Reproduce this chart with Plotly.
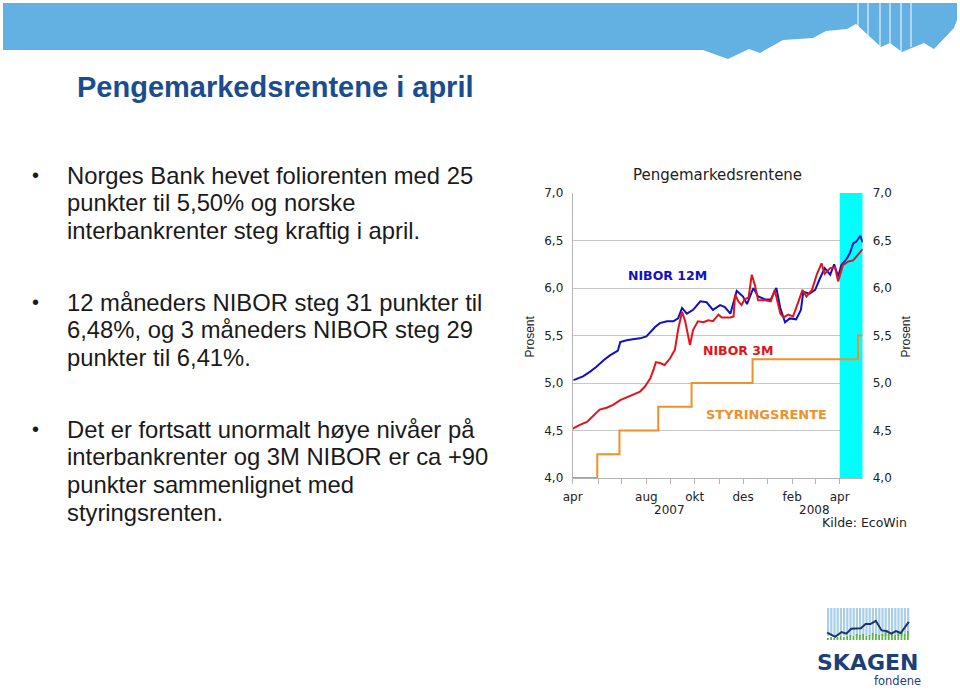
import plotly.graph_objects as go

# ---------------- data ----------------
nibor12_dates = ["2007-05-01","2007-05-06","2007-05-13","2007-05-22","2007-05-30","2007-06-08","2007-06-16",
                 "2007-06-24","2007-06-26","2007-06-29","2007-07-07","2007-07-15","2007-07-24","2007-08-01",
                 "2007-08-06","2007-08-12","2007-08-18","2007-08-27","2007-09-04","2007-09-10","2007-09-15",
                 "2007-09-21","2007-09-29","2007-10-08","2007-10-16","2007-10-24","2007-11-02","2007-11-08",
                 "2007-11-15","2007-11-23","2007-11-27","2007-12-01","2007-12-06","2007-12-14","2007-12-20",
                 "2007-12-29","2008-01-05","2008-01-12","2008-01-17","2008-01-23","2008-01-29","2008-02-06",
                 "2008-02-12","2008-02-15","2008-02-23","2008-03-01","2008-03-07","2008-03-13","2008-03-20",
                 "2008-03-25","2008-03-30","2008-04-03","2008-04-10","2008-04-14","2008-04-18","2008-04-22",
                 "2008-04-27","2008-04-30"]
nibor12 = [5.03,5.05,5.07,5.12,5.17,5.24,5.29,5.33,5.34,5.43,5.45,5.46,5.47,5.49,5.54,5.59,5.63,5.65,5.65,5.68,
           5.79,5.73,5.77,5.86,5.85,5.77,5.82,5.80,5.73,5.97,5.94,5.91,5.83,6.00,5.91,5.88,5.88,6.00,5.79,5.64,
           5.68,5.67,5.77,5.96,5.94,5.98,6.10,6.21,6.14,6.25,6.12,6.24,6.31,6.37,6.47,6.49,6.55,6.48]

nibor3_dates = ["2007-04-30","2007-05-09","2007-05-18","2007-05-26","2007-06-03","2007-06-12","2007-06-20",
                "2007-06-29","2007-07-07","2007-07-15","2007-07-24","2007-07-30","2007-08-06","2007-08-10",
                "2007-08-13","2007-08-18","2007-08-24","2007-08-31","2007-09-06","2007-09-10","2007-09-15",
                "2007-09-19","2007-09-25","2007-09-29","2007-10-05","2007-10-12","2007-10-18","2007-10-24",
                "2007-10-31","2007-11-04","2007-11-15","2007-11-19","2007-11-21","2007-11-25","2007-11-29",
                "2007-12-03","2007-12-08","2007-12-12","2007-12-16","2007-12-20","2007-12-29","2008-01-05",
                "2008-01-10","2008-01-17","2008-01-21","2008-01-27","2008-02-02","2008-02-09","2008-02-14",
                "2008-02-19","2008-02-26","2008-03-03","2008-03-09","2008-03-13","2008-03-20","2008-03-26",
                "2008-03-30","2008-04-05","2008-04-12","2008-04-18","2008-04-22","2008-04-27","2008-04-29",
                "2008-04-30"]
nibor3 = [4.52,4.56,4.59,4.65,4.72,4.74,4.77,4.82,4.85,4.88,4.91,4.96,5.05,5.14,5.22,5.21,5.19,5.26,5.35,5.56,
          5.75,5.65,5.40,5.56,5.65,5.64,5.66,5.65,5.72,5.69,5.69,5.70,5.93,5.86,5.82,5.88,5.90,6.14,6.03,5.87,
          5.87,5.86,5.98,5.73,5.69,5.72,5.70,5.86,5.98,5.91,5.98,6.14,6.26,6.15,6.21,6.22,6.07,6.24,6.28,6.29,
          6.33,6.37,6.40,6.41]

policy_dates = ["2007-04-30","2007-05-31","2007-06-28","2007-08-16","2007-09-27","2007-12-13","2008-04-24","2008-04-30"]
policy_rate = [4.00,4.25,4.50,4.75,5.00,5.25,5.50,5.50]

x_range = ["2007-04-30", "2008-04-30"]
highlight_start, highlight_end = "2008-04-01", "2008-04-30"

ytick_vals = [4.0, 4.5, 5.0, 5.5, 6.0, 6.5, 7.0]
ytick_text = ["4,0", "4,5", "5,0", "5,5", "6,0", "6,5", "7,0"]
xtick_vals = ["2007-04-30","2007-06-01","2007-07-01","2007-08-01","2007-09-01","2007-10-01","2007-11-01",
              "2007-12-01","2008-01-01","2008-02-01","2008-03-01","2008-04-01"]
xtick_text = ["apr","","","aug","","okt","","des","","feb","","apr"]

# ---------------- helpers ----------------
W, H = 960, 690
def px(x): return x / W
def py(y): return 1 - y / H

BLUE = "#1010c4"
RED = "#e0141c"
ORANGE = "#f0902a"
CHART_FONT = "DejaVu Sans"
SLIDE_FONT = "Liberation Sans, Arial"

fig = go.Figure()
fig.add_trace(go.Scatter(x=policy_dates, y=policy_rate, mode="lines", line=dict(color=ORANGE, width=2, shape="hv"),
                         yaxis="y2", name="Styringsrente", showlegend=False))
fig.add_trace(go.Scatter(x=nibor12_dates, y=nibor12, mode="lines", line=dict(color=BLUE, width=2),
                         name="NIBOR 12M", showlegend=False))
fig.add_trace(go.Scatter(x=nibor3_dates, y=nibor3, mode="lines", line=dict(color=RED, width=2),
                         name="NIBOR 3M", showlegend=False))

tickfont = dict(family=CHART_FONT, size=12, color="#222222")
fig.update_layout(
    width=W, height=H, margin=dict(l=0, r=0, t=0, b=0, pad=0, autoexpand=False),
    paper_bgcolor="white", plot_bgcolor="white",
    xaxis=dict(domain=[px(572.7), px(862.7)], type="date", range=x_range, showgrid=False,
               showline=True, linecolor="#b4b4b4", linewidth=1, ticks="outside", ticklen=5,
               tickcolor="#b4b4b4", tickvals=xtick_vals, ticktext=xtick_text, tickfont=tickfont,
               ticklabelstandoff=3, fixedrange=True, automargin=False),
    yaxis=dict(domain=[py(478), py(193)], range=[4, 7], showgrid=True, gridcolor="#c8c8c8", gridwidth=1,
               showline=True, linecolor="#b4b4b4", ticks="", tickvals=ytick_vals, ticktext=ytick_text,
               tickfont=tickfont, zeroline=False, ticklabelstandoff=6, automargin=False),
    yaxis2=dict(overlaying="y", side="right", range=[4, 7], showgrid=False, showline=False, ticks="",
                tickvals=ytick_vals, ticktext=ytick_text, tickfont=tickfont, zeroline=False,
                ticklabelstandoff=9, automargin=False),
)

shapes = []
# highlight band for April 2008
shapes.append(dict(type="rect", xref="x", yref="y", x0=highlight_start, x1=highlight_end, y0=4, y1=7,
                   fillcolor="#00ffff", line=dict(width=0), layer="between"))

# top banner
band = [(3,3),(957,3),(957,20),(954,28),(934,49),(924,43),(902,52),(890,43),(881,47),(856,24),(847,29),
        (826,31),(813,38),(783,40),(760,53),(749,49),(728,59),(703,50),(3,50)]
path = "M " + " L ".join(f"{px(a):.5f},{py(b):.5f}" for a, b in band) + " Z"
shapes.append(dict(type="path", xref="paper", yref="paper", path=path, fillcolor="#63b0e3",
                   line=dict(width=0), layer="below"))
for xx, yb in [(858,26),(868,36),(880,46),(890,43),(901,51),(911,47)]:
    shapes.append(dict(type="line", xref="paper", yref="paper", x0=px(xx), x1=px(xx), y0=py(3), y1=py(yb),
                       line=dict(color="white", width=1), layer="below"))

# logo graphic
for i in range(26):
    x0 = 827 + i * 3.2
    shapes.append(dict(type="rect", xref="paper", yref="paper", x0=px(x0), x1=px(x0 + 2.2), y0=py(636), y1=py(608),
                       fillcolor="#a9cfea", line=dict(width=0), layer="below"))
green_h = [2,3,2,3,4,3,4,5,4,6,5,6,4,5,7,6,5,6,8,6,7,5,7,8,6,9]
for i, h in enumerate(green_h):
    x0 = 827 + i * 3.2
    shapes.append(dict(type="rect", xref="paper", yref="paper", x0=px(x0), x1=px(x0 + 1.8), y0=py(640), y1=py(640 - h),
                       fillcolor="#5fb54a", line=dict(width=0), layer="below"))
logo_line = [(827.2,632.6),(835.2,636.8),(841.6,632),(846.4,633.6),(851.2,628.8),(860.8,628.2),(865.6,624),
             (870.4,624),(875.8,620.8),(881.6,630.4),(886.4,631),(891.2,633.6),(896,631),(900.8,633),(908.8,621.8)]
lpath = "M " + " L ".join(f"{px(a):.5f},{py(b):.5f}" for a, b in logo_line)
shapes.append(dict(type="path", xref="paper", yref="paper", path=lpath, line=dict(color="#1c3566", width=2),
                   layer="below"))
fig.update_layout(shapes=shapes)

ann = []
def text(x, y, s, size, color="#1a1a1a", family=SLIDE_FONT, xanchor="left", bold=False, angle=0):
    if bold:
        s = f"<b>{s}</b>"
    ann.append(dict(xref="paper", yref="paper", x=px(x), y=py(y), text=s, showarrow=False,
                    xanchor=xanchor, yanchor="middle", textangle=angle, borderpad=0,
                    font=dict(family=family, size=size, color=color)))

# slide title
text(76, 87, "Pengemarkedsrentene i april", 29, color="#1a4d8f", bold=True)

# bullets
bullets = [
    (175, ["Norges Bank hevet foliorenten med 25", "punkter til 5,50% og norske",
           "interbankrenter steg kraftig i april."]),
    (302, ["12 måneders NIBOR steg 31 punkter til", "6,48%, og 3 måneders NIBOR steg 29",
           "punkter til 6,41%."]),
    (429, ["Det er fortsatt unormalt høye nivåer på", "interbankrenter og 3M NIBOR er ca +90",
           "punkter sammenlignet med", "styringsrenten."]),
]
for y0, lines in bullets:
    text(35, y0, "•", 20, xanchor="center")
    for k, line in enumerate(lines):
        text(66, y0 + k * 27.7, line, 23.8)

# chart texts
text(717.5, 175, "Pengemarkedsrentene", 15, color="#222222", family=CHART_FONT, xanchor="center")
text(529, 336.5, "Prosent", 12, color="#222222", family="Liberation Sans", xanchor="center", angle=-90)
text(905, 336.5, "Prosent", 12, color="#222222", family="Liberation Sans", xanchor="center", angle=-90)
text(669, 510, "2007", 12, color="#222222", family=CHART_FONT, xanchor="center")
text(814, 510, "2008", 12, color="#222222", family=CHART_FONT, xanchor="center")
text(908, 522, "Kilde: EcoWin", 12.5, color="#222222", family=CHART_FONT, xanchor="right")
text(667, 275, "NIBOR 12M", 12.5, color=BLUE, family=CHART_FONT, xanchor="center", bold=True)
text(738, 350, "NIBOR 3M", 12.5, color=RED, family=CHART_FONT, xanchor="center", bold=True)
text(766, 414, "STYRINGSRENTE", 13, color=ORANGE, family=CHART_FONT, xanchor="center", bold=True)

# logo text
text(867, 662, "SKAGEN", 22, color="#1c3f75", family="DejaVu Sans", xanchor="center", bold=True)
text(897, 681, "fondene", 11.5, color="#1c3f75", family="DejaVu Sans", xanchor="center")

fig.update_layout(annotations=ann)
fig.write_html("out.html")
